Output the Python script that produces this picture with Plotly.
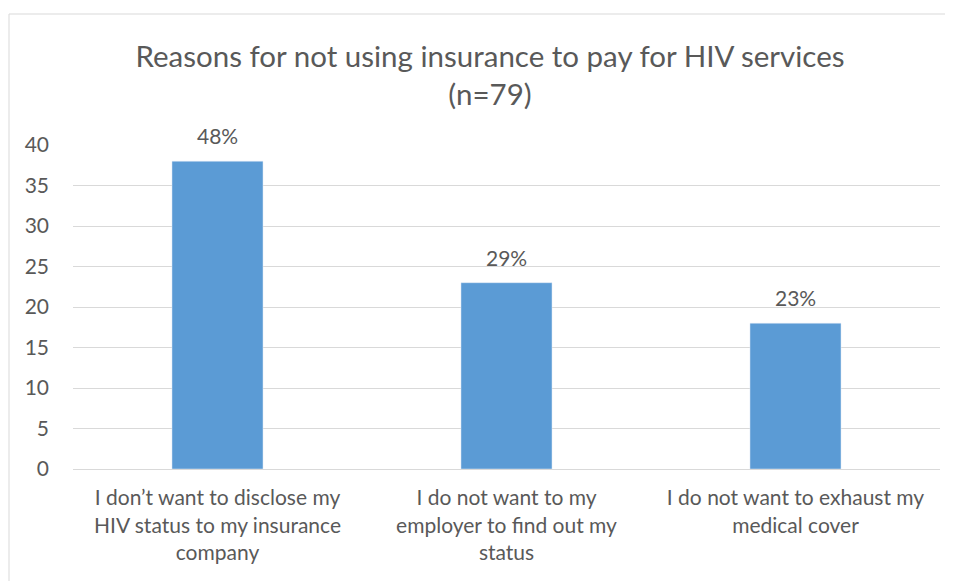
import plotly.graph_objects as go

categories = [
    "I don’t want to disclose my<br>HIV status to my insurance<br>company",
    "I do not want to my<br>employer to find out my<br>status",
    "I do not want to exhaust my<br>medical cover",
]
counts = [38, 23, 18]
pct_labels = ["48%", "29%", "23%"]
y_ticks = [0, 5, 10, 15, 20, 25, 30, 35, 40]

FONT = "Lato, sans-serif"
GRAY = "#595959"

# page has an 8px body margin; figure is placed at (8, 8)
OFF = 8
W, H = 953 - OFF, 581 - OFF
L, T = 73 - OFF, 145 - OFF
R = W - (940 - OFF)
B = H - (469 - OFF)
pw, ph = W - L - R, H - T - B

fig = go.Figure(go.Bar(
    x=categories, y=counts,
    marker_color="#5B9BD5", width=0.315, cliponaxis=False,
))

for c, v, t in zip(categories, counts, pct_labels):
    fig.add_annotation(x=c, y=v, text=t, showarrow=False, yanchor="bottom",
                       yshift=11, font=dict(size=21, color=GRAY, family=FONT))

fig.update_layout(
    width=W, height=H,
    margin=dict(l=L, r=R, t=T, b=B),
    plot_bgcolor="white", paper_bgcolor="white",
    font=dict(family=FONT, color=GRAY, size=21),
    title=dict(text="Reasons for not using insurance to pay for HIV services<br>(n=79)",
               x=(490 - OFF) / W, xanchor="center", y=1 - (67 - OFF) / H, yanchor="middle",
               font=dict(size=29.5, color=GRAY, family=FONT)),
    showlegend=False,
    shapes=[dict(type="rect", xref="paper", yref="paper",
                 x0=(9 - 73) / pw, x1=(W + 40 - L) / pw,
                 y0=-(H + 40 - (H - B)) / ph, y1=(469 - 14) / ph,
                 line=dict(color="#d9d9d9", width=1), layer="below")],
)
fig.update_yaxes(range=[0, 40], tickvals=y_ticks, showgrid=True, gridcolor="#d9d9d9",
                 gridwidth=1, zeroline=False, showline=False,
                 tickfont=dict(size=21, color=GRAY), ticklabelstandoff=23)
fig.update_xaxes(showline=True, linecolor="#d9d9d9", linewidth=1,
                 tickfont=dict(size=21, color=GRAY), ticks="", ticklabelstandoff=10)

fig.write_html("out.html")
